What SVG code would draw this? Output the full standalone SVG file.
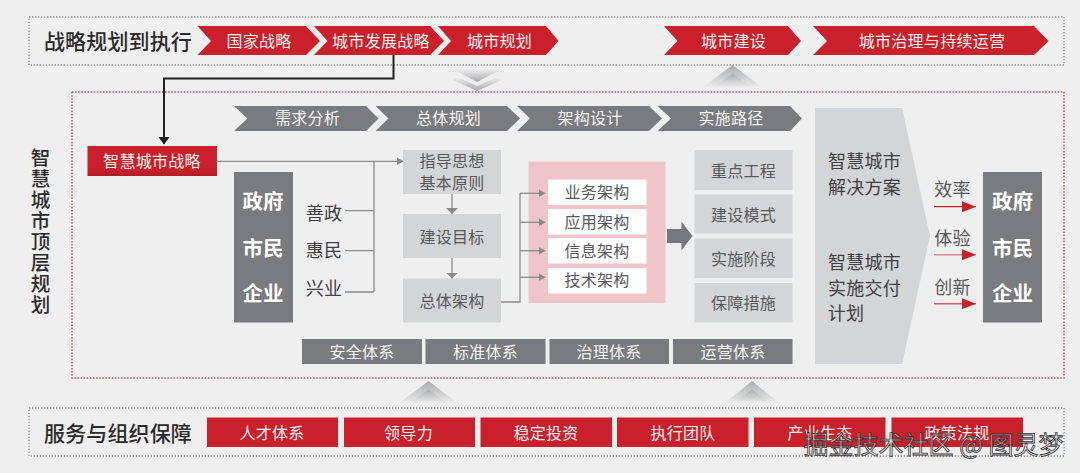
<svg xmlns="http://www.w3.org/2000/svg" width="1080" height="473" viewBox="0 0 1080 473">
<style>
text{font-family:"Noto Sans CJK SC","Noto Sans",sans-serif;text-anchor:middle;dominant-baseline:central;transform:translateY(-1.5px)}
.w{fill:#fff}.w16{fill:#f6f3f3;font-size:16px;letter-spacing:.3px}
.d16{fill:#58595b;font-size:16px;letter-spacing:.3px}
.d18{fill:#3f4042;font-size:18px;letter-spacing:.3px}
.t{fill:#2b2b2b;font-size:21px;font-weight:500;letter-spacing:.15px}
.b{fill:#fff;font-size:20.5px;font-weight:700}
.red{fill:#c9202b}.gd{fill:#7a7b7e}.lg{fill:#d3d5d6}
.dot{fill:none;stroke:#8f8f8f;stroke-width:1.3;stroke-dasharray:1.3 1.7}
.dotr{fill:none;stroke:#d2505f;stroke-width:1.5;stroke-dasharray:1.5 1.6}
.c{fill:none;stroke:#8c8c8c;stroke-width:1.3}
.s{font-size:19.5px;fill:#2b2b2b;font-weight:500}
</style>
<defs>
<marker id="g" markerWidth="7" markerHeight="8" refX="6.5" refY="4" orient="auto" markerUnits="userSpaceOnUse"><path d="M0 0L7 4L0 8Z" fill="#8a8a8a"/></marker>
<marker id="gv" markerWidth="6" markerHeight="12" refX="6" refY="6" orient="auto" markerUnits="userSpaceOnUse"><path d="M0 0L6 6L0 12Z" fill="#8a8a8a"/></marker>
<marker id="k" markerWidth="8" markerHeight="12" refX="7.5" refY="6" orient="auto" markerUnits="userSpaceOnUse"><path d="M0 0L8 6L0 12Z" fill="#222"/></marker>
<marker id="r" markerWidth="14" markerHeight="11" refX="14" refY="5.5" orient="auto" markerUnits="userSpaceOnUse"><path d="M0 0L14 5.5L0 11Z" fill="#c9202b"/></marker>
<linearGradient id="dn" x1="0" y1="0" x2="0" y2="1"><stop offset="0" stop-color="#efefef"/><stop offset="1" stop-color="#a9aaac"/></linearGradient>
<linearGradient id="up" x1="0" y1="1" x2="0" y2="0"><stop offset="0" stop-color="#efefef"/><stop offset="1" stop-color="#a9aaac"/></linearGradient>
<linearGradient id="rb" x1="0" y1="0" x2="0" y2="1"><stop offset="0" stop-color="#c9202b"/><stop offset=".8" stop-color="#c9202b"/><stop offset="1" stop-color="#ae1d27"/></linearGradient>
</defs>
<rect width="1080" height="473" fill="#efefef"/>

<g id="top-frame"><rect class="dot" x="29" y="17" width="1035" height="48"/><text class="t" x="118" y="41.5">战略规划到执行</text></g>
<g id="top-1"><polygon class="red" points="197.5,26 306,26 320,41 306,55 197.5,55 211,41"/><text class="w16" x="259" y="41.5">国家战略</text></g>
<g id="top-2"><polygon class="red" points="314,26 430,26 444,41 430,55 314,55 327.5,41"/><text class="w16" x="381" y="41.5">城市发展战略</text></g>
<g id="top-3"><polygon class="red" points="438,26 546,26 558.5,41 546,55 438,55 451,41"/><text class="w16" x="499.5" y="41.5">城市规划</text></g>
<g id="top-4"><polygon class="red" points="664,26 788,26 801,41 788,55 664,55 677.5,41"/><text class="w16" x="733.5" y="41.5">城市建设</text></g>
<g id="top-5"><polygon class="red" points="813,26 1034,26 1048.5,41 1034,55 813,55 827,41"/><text class="w16" x="932" y="41.5">城市治理与持续运营</text></g>

<g id="flow-chevrons">
<polygon points="453,69 502,69 477,82" fill="url(#dn)"/>
<polygon points="458,77 477,86 497,77 502,80 477,91 453,80" fill="url(#dn)"/>
<polygon points="702,88 732.5,65 763,88 752,88 732.5,73 713,88" fill="url(#up)"/>
<polygon points="712,88 732.5,73 753,88" fill="url(#up)"/>
<polygon points="398,404 428.5,381 459,404 448,404 428.5,389 409,404" fill="url(#up)"/>
<polygon points="408,404 428.5,389 449,404" fill="url(#up)"/>
<polygon points="723.5,404 752,381 780.5,404 770,404 752,389 734,404" fill="url(#up)"/>
<polygon points="733,404 752,389 771,404" fill="url(#up)"/>
</g>

<g id="main-frame"><rect class="dotr" x="72" y="92" width="992" height="286"/></g>
<g id="main-title"><text class="s" x="40.5" y="158">智</text><text class="s" x="40.5" y="179">慧</text><text class="s" x="40.5" y="200">城</text><text class="s" x="40.5" y="221">市</text><text class="s" x="40.5" y="242">顶</text><text class="s" x="40.5" y="263">层</text><text class="s" x="40.5" y="284">规</text><text class="s" x="40.5" y="305">划</text></g>

<g id="step-1"><polygon class="gd" points="234,106 366,106 378.5,118.5 366,131 234,131 247.5,118.5"/><text class="w16" x="307.5" y="118.5">需求分析</text></g>
<g id="step-2"><polygon class="gd" points="375.5,106 507,106 520,118.5 507,131 375.5,131 388.5,118.5"/><text class="w16" x="448.5" y="118.5">总体规划</text></g>
<g id="step-3"><polygon class="gd" points="517,106 649,106 662,118.5 649,131 517,131 530,118.5"/><text class="w16" x="590" y="118.5">架构设计</text></g>
<g id="step-4"><polygon class="gd" points="657.5,106 790,106 802,118.5 790,131 657.5,131 671,118.5"/><text class="w16" x="731" y="118.5">实施路径</text></g>

<g id="strategy"><rect x="87.5" y="146" width="129.5" height="30" fill="url(#rb)"/><text class="w16" x="152" y="161.5">智慧城市战略</text></g>
<g id="actors-left"><rect class="gd" x="234" y="172" width="59" height="150.5"/><text class="b" x="263" y="201.5">政府</text><text class="b" x="263" y="248">市民</text><text class="b" x="263" y="293">企业</text></g>
<g id="label-shanzheng"><text class="d18" x="324" y="213">善政</text></g>
<g id="label-huimin"><text class="d18" x="324" y="250">惠民</text></g>
<g id="label-xingye"><text class="d18" x="324" y="288">兴业</text></g>

<g id="guide"><rect class="lg" x="403" y="150" width="98" height="44"/><text class="d16" x="452" y="161.500">指导思想</text><text class="d16" x="452" y="183.500">基本原则</text></g>
<g id="goal"><rect class="lg" x="403" y="214" width="98" height="44"/><text class="d16" x="452" y="237">建设目标</text></g>
<g id="overall"><rect class="lg" x="403" y="278.500" width="98" height="44"/><text class="d16" x="452" y="301">总体架构</text></g>

<g id="arch-panel"><rect x="528.500" y="161.500" width="137" height="141.500" fill="#f0c5ca"/></g>
<g id="arch-1"><rect x="548" y="179.500" width="98.500" height="25.500" fill="#fff"/><text class="d16" x="597" y="192.500">业务架构</text></g>
<g id="arch-2"><rect x="548" y="209" width="98.500" height="25.500" fill="#fff"/><text class="d16" x="597" y="222">应用架构</text></g>
<g id="arch-3"><rect x="548" y="238" width="98.500" height="25.500" fill="#fff"/><text class="d16" x="597" y="251">信息架构</text></g>
<g id="arch-4"><rect x="548" y="268" width="98.500" height="25.500" fill="#fff"/><text class="d16" x="597" y="280.500">技术架构</text></g>

<g id="path-1"><rect class="lg" x="694.500" y="150" width="98" height="40"/><text class="d16" x="743.500" y="171">重点工程</text></g>
<g id="path-2"><rect class="lg" x="694.500" y="194.500" width="98" height="39"/><text class="d16" x="743.500" y="215">建设模式</text></g>
<g id="path-3"><rect class="lg" x="694.500" y="238.500" width="98" height="39.500"/><text class="d16" x="743.500" y="259.500">实施阶段</text></g>
<g id="path-4"><rect class="lg" x="694.500" y="283" width="98" height="39.500"/><text class="d16" x="743.500" y="303.500">保障措施</text></g>

<g id="sys-1"><rect class="gd" x="302" y="339" width="120" height="25"/><text class="w16" x="362" y="352.500">安全体系</text></g>
<g id="sys-2"><rect class="gd" x="425.500" y="339" width="120" height="25"/><text class="w16" x="485.500" y="352.500">标准体系</text></g>
<g id="sys-3"><rect class="gd" x="549.500" y="339" width="119.500" height="25"/><text class="w16" x="609" y="352.500">治理体系</text></g>
<g id="sys-4"><rect class="gd" x="673" y="339" width="119.500" height="25"/><text class="w16" x="733" y="352.500">运营体系</text></g>

<g id="solution"><polygon class="lg" points="815,108 902,108 930,236 902,364 815,364"/>
<text class="d18" x="864.500" y="161.500">智慧城市</text><text class="d18" x="864.500" y="187">解决方案</text><text class="d18" x="864.500" y="262.500">智慧城市</text><text class="d18" x="864.500" y="288">实施交付</text><text class="d18" x="846" y="313.500">计划</text></g>

<g id="label-xiaolv"><text class="d18" x="952.500" y="189.500" style="fill:#58595b">效率</text></g>
<g id="label-tiyan"><text class="d18" x="952.500" y="238.500" style="fill:#58595b">体验</text></g>
<g id="label-chuangxin"><text class="d18" x="952.500" y="287.500" style="fill:#58595b">创新</text></g>
<g id="actors-right"><rect class="gd" x="983" y="172" width="59" height="150.500"/><text class="b" x="1012.500" y="201.500">政府</text><text class="b" x="1012.500" y="248">市民</text><text class="b" x="1012.500" y="293">企业</text></g>

<g id="connectors">
<path d="M393.500 55V78.500H164V144" fill="none" stroke="#222" stroke-width="2" marker-end="url(#k)"/>
<path class="c" d="M217 161.300H403" marker-end="url(#g)"/>
<path class="c" d="M374 161.300V292M345 210.700H374M345 250.700H374M345 292H374"/>
<path class="c" d="M452 194V214" marker-end="url(#gv)"/>
<path class="c" d="M452 258V278.500" marker-end="url(#gv)"/>
<path class="c" d="M501 302H520V193.300"/>
<path class="c" d="M520 193.300H545" marker-end="url(#g)"/>
<path class="c" d="M520 222.300H545" marker-end="url(#g)"/>
<path class="c" d="M520 250.700H545" marker-end="url(#g)"/>
<path class="c" d="M520 277.300H545" marker-end="url(#g)"/>
<polygon points="667,229 681.500,229 681.500,221.500 692.500,236 681.500,250.500 681.500,243 667,243" fill="#77787b"/>
<path d="M934 206.700H976" stroke="#c9202b" stroke-width="1.200" fill="none" marker-end="url(#r)"/>
<path d="M934 254.700H976" stroke="#d98a90" stroke-width="1.500" fill="none" marker-end="url(#r)"/>
<path d="M934 303.700H976" stroke="#d0616b" stroke-width="1.500" fill="none" marker-end="url(#r)"/>
</g>

<g id="bottom-frame"><rect class="dot" x="29" y="408" width="1035" height="48"/><text class="t" x="118" y="433.500">服务与组织保障</text></g>
<g id="sup-1"><rect class="red" x="207" y="417.500" width="131" height="29.500"/><text class="w16" x="272" y="433">人才体系</text></g>
<g id="sup-2"><rect class="red" x="344" y="417.500" width="131" height="29.500"/><text class="w16" x="408.500" y="433">领导力</text></g>
<g id="sup-3"><rect class="red" x="480.500" y="417.500" width="131.500" height="29.500"/><text class="w16" x="546" y="433">稳定投资</text></g>
<g id="sup-4"><rect class="red" x="617" y="417.500" width="131.500" height="29.500"/><text class="w16" x="683" y="433">执行团队</text></g>
<g id="sup-5"><rect class="red" x="754" y="417.500" width="131.500" height="29.500"/><text class="w16" x="820" y="433">产业生态</text></g>
<g id="sup-6"><rect class="red" x="891.500" y="417.500" width="131.500" height="29.500"/><text class="w16" x="957" y="433">政策法规</text></g>
<text x="933.500" y="444" font-size="25" fill="#f2f2f2" fill-opacity=".6" stroke="#333" stroke-width=".8">掘金技术社区 @ 图灵梦</text>
</svg>
